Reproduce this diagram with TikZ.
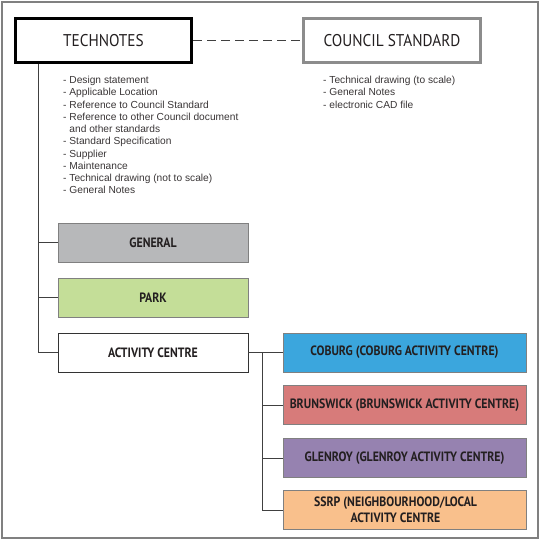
\documentclass[tikz,border=0pt]{standalone}
\usepackage{fontspec}
\setmainfont{Liberation Sans}
\newfontfamily\headfont[FakeStretch=0.9]{PT Sans}
\newfontfamily\boxfont[FakeStretch=0.875]{PT Sans}
\usetikzlibrary{calc}
\definecolor{framec}{HTML}{808080}
\definecolor{txt}{HTML}{231F20}
\definecolor{cgeneral}{HTML}{B7B8BA}
\definecolor{cpark}{HTML}{C4DE98}
\definecolor{ccoburg}{HTML}{3BA6DD}
\definecolor{cbruns}{HTML}{D77B7A}
\definecolor{cglen}{HTML}{9682B0}
\definecolor{cssrp}{HTML}{F9C08C}
\tikzset{
  topbox/.style={rectangle, line width=3pt, minimum width=176pt, minimum height=44pt, inner sep=0pt, text=txt, font=\headfont\fontsize{17}{19}\selectfont},
  catbox/.style={rectangle, draw=gray, line width=0.8pt, minimum width=190pt, minimum height=39pt, inner sep=0pt, text=txt, font=\boxfont\bfseries\fontsize{13.5}{16}\selectfont, align=center},
  subbox/.style={catbox, minimum width=243pt},
  notes/.style={anchor=north west, align=left, inner sep=0pt, text=txt!90, font=\fontsize{10.2}{12.25}\selectfont},
  link/.style={draw=black!75, line width=1pt}
}
\begin{document}
\begin{tikzpicture}[x=1pt,y=-1pt]
\useasboundingbox (0,0) rectangle (541,541);
\draw[framec, line width=2pt] (2,2) rectangle (538,538);
\node[topbox, draw=black] (tech) at (103.5,40.5) {TECHNOTES};
\node[topbox, draw=black!45, minimum width=177pt] (council) at (392,40.5) {COUNCIL STANDARD};
\draw[link, dash pattern=on 9pt off 5pt] (tech.east) -- (council.west);
\node[notes] (technotes) at (63,76) {- Design statement\\- Applicable Location\\- Reference to Council Standard\\- Reference to other Council document\\\phantom{- }and other standards\\- Standard Specification\\- Supplier\\- Maintenance\\- Technical drawing (not to scale)\\- General Notes};
\node[notes] (councilnotes) at (323,76) {- Technical drawing (to scale)\\- General Notes\\- electronic CAD file};
\node[catbox, fill=cgeneral] (general) at (153,242.5) {GENERAL};
\node[catbox, fill=cpark] (park) at (153,297.5) {PARK};
\node[catbox, fill=white, draw=black!80] (act) at (153,352.5) {ACTIVITY CENTRE};
\draw[link] ([xshift=24pt]tech.south west) |- (act.west);
\draw[link] ([xshift=24pt]tech.south west |- general.west) -- (general.west);
\draw[link] ([xshift=24pt]tech.south west |- park.west) -- (park.west);
\node[subbox, fill=ccoburg] (coburg) at (404.5,352.5) {COBURG (COBURG ACTIVITY CENTRE)};
\node[subbox, fill=cbruns] (bruns) at (404.5,405) {BRUNSWICK (BRUNSWICK ACTIVITY CENTRE)};
\node[subbox, fill=cglen] (glen) at (404.5,458) {GLENROY (GLENROY ACTIVITY CENTRE)};
\node[subbox, fill=cssrp] (ssrp) at (404.5,510) {SSRP (NEIGHBOURHOOD/LOCAL\hspace*{18pt}\\ACTIVITY CENTRE\hspace*{18pt}};
\draw[link] (act.east) -- (coburg.west);
\coordinate (sub) at ($(act.east)!0.4!(coburg.west)$);
\draw[link] (sub) |- (ssrp.west);
\draw[link] (sub |- bruns.west) -- (bruns.west);
\draw[link] (sub |- glen.west) -- (glen.west);
\end{tikzpicture}
\end{document}
